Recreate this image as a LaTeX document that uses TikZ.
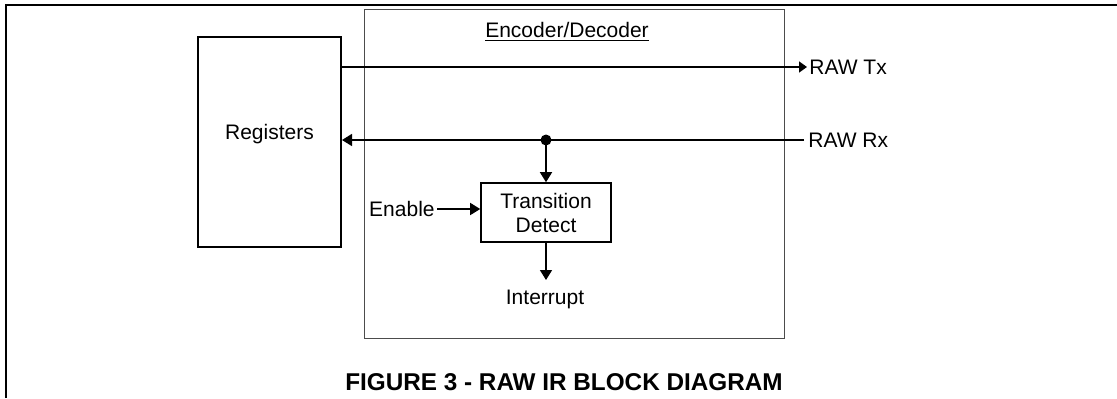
\documentclass[tikz,border=0pt]{standalone}
\usepackage{fontspec}
\setmainfont{Liberation Sans}
\usetikzlibrary{arrows.meta}
\begin{document}
\begin{tikzpicture}[x=0.5pt,y=-0.5pt,
  txt/.style={inner sep=0pt,font=\fontsize{10.5}{12}\selectfont},
  blockbox/.style={draw,line width=1pt,inner sep=0pt},
  conn/.style={line width=0.75pt},
  arr/.style={conn,-{Triangle[length=5pt,width=6pt]}},
  arrs/.style={conn,-{Triangle[length=4pt,width=5.5pt]}}]
\useasboundingbox (0,0) rectangle (1117,398);
% outer frame (left and top edges)
\draw[line width=1.15pt] (6,398) -- (6,5) -- (1117,5);
% encoder/decoder box
\node[draw=black!70,line width=0.5pt,inner sep=0pt,minimum width=210pt,minimum height=164.5pt] (enc) at (574,173.5) {};
\node[txt,anchor=base] (enclabel) at (567,37) {\underline{Encoder/Decoder}};
% registers
\node[blockbox,minimum width=71.5pt,minimum height=105pt] (reg) at (269.5,142) {};
\node[txt,anchor=base] (reglabel) at (269.5,139) {Registers};
% transition detect
\node[draw,line width=0.8pt,inner sep=0pt,minimum width=65pt,minimum height=29.5pt,align=center,font=\fontsize{10.5}{12}\selectfont] (td) at (546,212.5) {Transition\\Detect};
% labels
\node[txt,anchor=west,inner xsep=1pt] (tx) at (807,67) {RAW Tx};
\node[txt,anchor=west,inner xsep=2pt] (rx) at (804,140) {RAW Rx};
\node[txt,anchor=east,inner xsep=1pt] (en) at (437,209) {Enable};
\node[txt,anchor=north,inner ysep=5pt] (intr) at (545,280) {Interrupt};
\node[txt,anchor=base,font=\fontsize{12.15}{14}\selectfont\bfseries] (cap) at (564,390) {FIGURE 3 - RAW IR BLOCK DIAGRAM};
% junction dot
\coordinate (dot) at (546,140);
\fill (dot) circle[radius=2.75pt];
% connectors
\draw[arrs] (reg.east |- tx.west) -- (tx.west);
\draw[arr] (rx.west) -- (reg.east |- rx.west);
\draw[arr] (dot) -- (td.north);
\draw[arr] (en.east) -- (en.east -| td.west);
\draw[arr] (td.south) -- (td.south |- intr.north);
\end{tikzpicture}
\end{document}
